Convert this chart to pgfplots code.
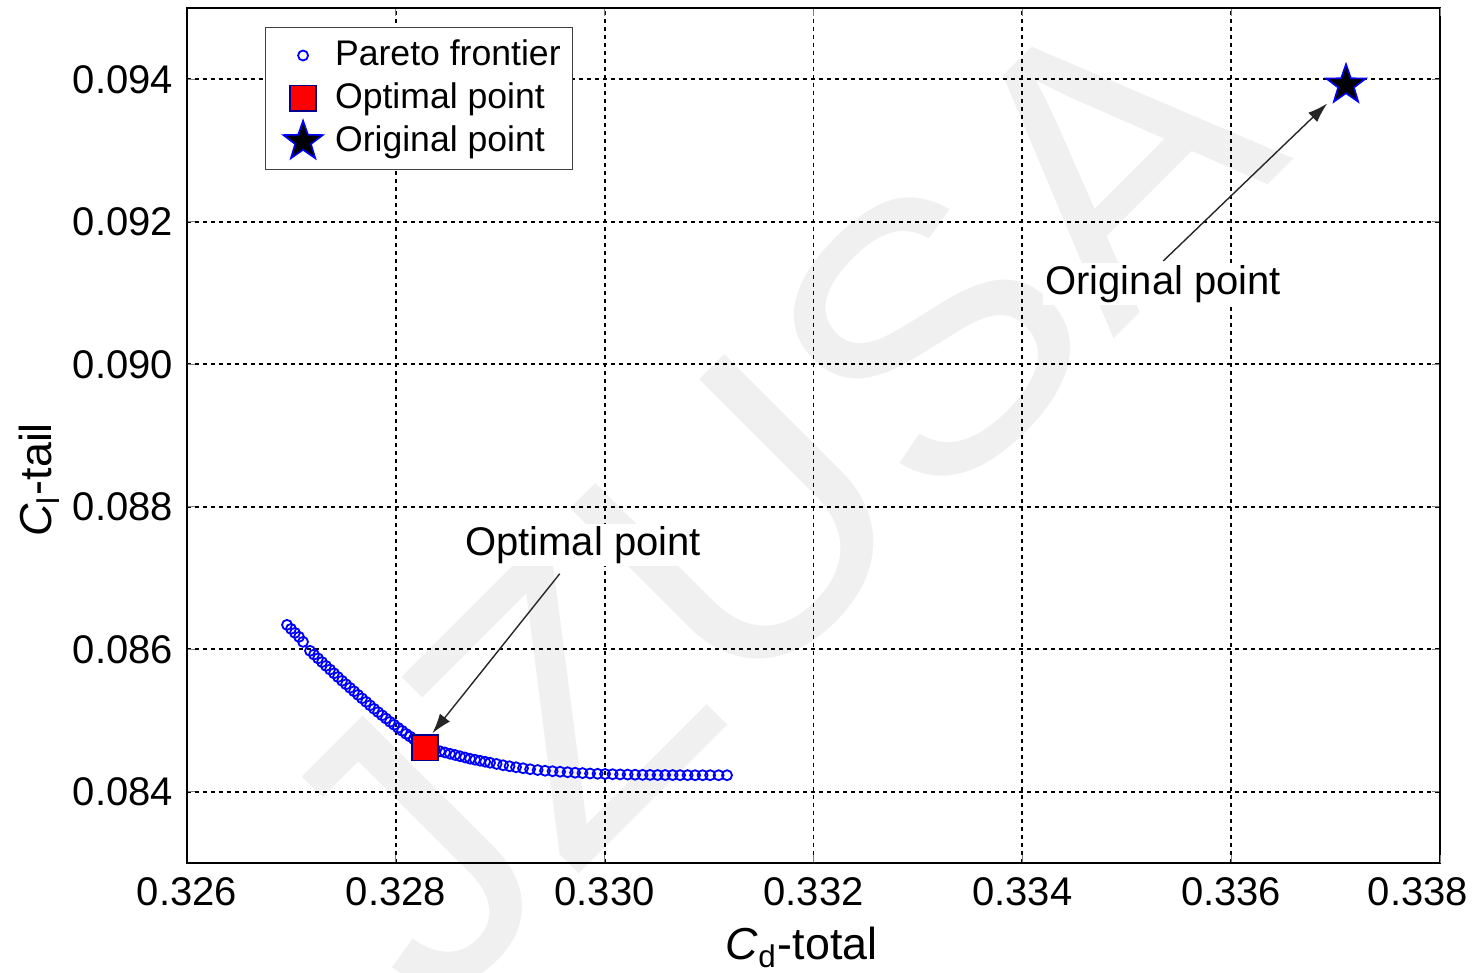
\documentclass[border=0pt]{standalone}
\usepackage{fontspec}
\setmainfont{Liberation Sans}
\usepackage{pgfplots}
\pgfplotsset{compat=1.18}
\usetikzlibrary{arrows.meta}
\pgfdeclareplotmark{fstar}{%
  \pgfpathmoveto{\pgfpointpolar{90}{\pgfplotmarksize}}%
  \pgfpathlineto{\pgfpointpolar{126}{0.4\pgfplotmarksize}}%
  \pgfpathlineto{\pgfpointpolar{162}{\pgfplotmarksize}}%
  \pgfpathlineto{\pgfpointpolar{198}{0.4\pgfplotmarksize}}%
  \pgfpathlineto{\pgfpointpolar{234}{\pgfplotmarksize}}%
  \pgfpathlineto{\pgfpointpolar{270}{0.4\pgfplotmarksize}}%
  \pgfpathlineto{\pgfpointpolar{306}{\pgfplotmarksize}}%
  \pgfpathlineto{\pgfpointpolar{342}{0.4\pgfplotmarksize}}%
  \pgfpathlineto{\pgfpointpolar{18}{\pgfplotmarksize}}%
  \pgfpathlineto{\pgfpointpolar{54}{0.4\pgfplotmarksize}}%
  \pgfpathclose
  \pgfusepathqfillstroke
}
\begin{document}
\begin{tikzpicture}
\node[rotate=45, text=black!6, font=\fontsize{96}{96}\selectfont] at (146pt,92pt) {JZUSA};
\begin{axis}[
  scale only axis, width=313.25pt, height=213.75pt,
  xmin=0.326, xmax=0.338, ymin=0.083, ymax=0.095,
  xtick={0.326,0.328,0.330,0.332,0.334,0.336},
  extra x ticks={0.338},
  extra x tick style={xticklabel style={xshift=-5.5pt}},
  ytick={0.084,0.086,0.088,0.090,0.092,0.094},
  scaled ticks=false,
  /pgf/number format/fixed,
  /pgf/number format/fixed zerofill,
  /pgf/number format/precision=3,
  /pgf/number format/assume math mode=true,
  tick label style={font=\fontsize{10}{12}\selectfont},
  label style={font=\fontsize{11.2}{13}\selectfont},
  grid=major,
  major grid style={black, dash pattern=on 1pt off 1pt, line width=0.45pt},
  tick align=inside, tick pos=both, major tick length=2pt,
  axis line style={black, line width=0.5pt},
  xlabel={\textit{C}\textsubscript{d}-total},
  xlabel style={xshift=-3pt, yshift=1.5pt},
  ylabel={\textit{C}\textsubscript{l}-tail},
  ylabel style={at={(ticklabel cs:0.448,-3.5pt)}, anchor=near ticklabel},
  legend style={at={(0.062,0.978)}, anchor=north west, draw=black!75,
    font=\fontsize{8.9}{10}\selectfont, inner sep=1pt, row sep=-1.2pt},
  legend cell align=left,
  legend image code/.code={\path (0pt,0pt) (14pt,0pt); \draw[#1] plot coordinates {(8.2pt,0pt)};},
]
\addplot[only marks, mark=o, blue, mark size=1.25pt, mark options={line width=0.45pt}] coordinates {
(0.326958,0.086342) (0.326996,0.086286) (0.327034,0.086230) (0.327073,0.086174) (0.327111,0.086104)
(0.327178,0.085978) (0.327216,0.085925) (0.327255,0.085872) (0.327293,0.085820) (0.327331,0.085767)
(0.327370,0.085715) (0.327408,0.085662) (0.327446,0.085610) (0.327485,0.085557) (0.327523,0.085508)
(0.327561,0.085459) (0.327600,0.085410) (0.327638,0.085360) (0.327676,0.085311) (0.327715,0.085262)
(0.327753,0.085213) (0.327791,0.085164) (0.327830,0.085118) (0.327868,0.085073) (0.327906,0.085028)
(0.327944,0.084982) (0.327983,0.084940) (0.328021,0.084898) (0.328060,0.084856) (0.328098,0.084813)
(0.328136,0.084775) (0.328174,0.084736) (0.328232,0.084680)
(0.328328,0.084603) (0.328375,0.084586) (0.328423,0.084568) (0.328471,0.084551) (0.328519,0.084533)
(0.328567,0.084516) (0.328615,0.084498) (0.328663,0.084481) (0.328711,0.084463) (0.328759,0.084449)
(0.328807,0.084435) (0.328855,0.084421) (0.328902,0.084407) (0.328965,0.084390) (0.329027,0.084372)
(0.329089,0.084358) (0.329151,0.084344) (0.329218,0.084330) (0.329286,0.084316) (0.329358,0.084305)
(0.329429,0.084295) (0.329501,0.084288) (0.329573,0.084281) (0.329645,0.084274) (0.329717,0.084267)
(0.329788,0.084262) (0.329860,0.084256) (0.329932,0.084252) (0.330004,0.084249) (0.330076,0.084246)
(0.330148,0.084243) (0.330220,0.084241) (0.330291,0.084239) (0.330363,0.084237) (0.330435,0.084236)
(0.330507,0.084235) (0.330579,0.084235) (0.330651,0.084234) (0.330722,0.084233) (0.330794,0.084233)
(0.330866,0.084232) (0.330938,0.084232) (0.331010,0.084232) (0.331091,0.084232) (0.331172,0.084232)
};
\addlegendentry{Pareto frontier}
\addplot[only marks, mark=square*, mark size=3.2pt, mark options={fill=red, draw=blue!55!black, line width=0.4pt}] coordinates {(0.32828,0.08462)};
\addlegendentry{Optimal point}
\addplot[only marks, mark=fstar, mark size=5.2pt, mark options={fill=black, draw=blue, line width=0.4pt}] coordinates {(0.33710,0.09392)};
\addlegendentry{Original point}
\draw[-{Latex[length=5pt,width=3.2pt]}, line width=0.35pt, black!85] (axis cs:0.32957,0.08706) -- (axis cs:0.32835,0.08482);
\draw[-{Latex[length=5pt,width=3.2pt]}, line width=0.35pt, black!85] (axis cs:0.33535,0.09145) -- (axis cs:0.33692,0.09366);
\node[font=\fontsize{10}{12}\selectfont, fill=white, inner sep=0.5pt] at (axis cs:0.329793,0.087464) {Optimal point};
\node[font=\fontsize{10}{12}\selectfont, fill=white, inner sep=0.5pt] at (axis cs:0.335349,0.091125) {Original point};
\end{axis}
\pgfresetboundingbox
\useasboundingbox (-46.75pt,-27.5pt) rectangle (322.5pt,215.75pt);
\end{tikzpicture}
\end{document}
